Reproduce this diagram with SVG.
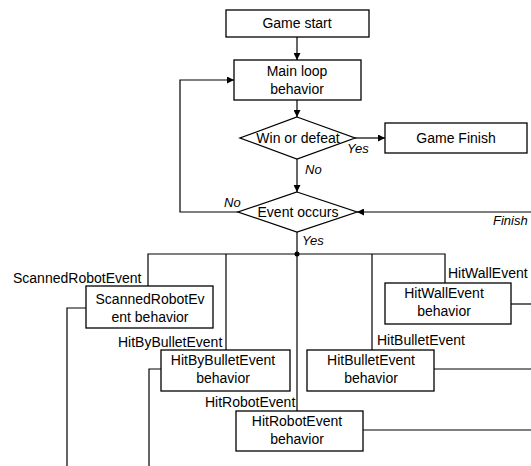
<svg xmlns="http://www.w3.org/2000/svg" width="531" height="466" viewBox="0 0 531 466">
<style>
.box{fill:#fff;stroke:#000;stroke-width:1.3}
.ln{fill:none;stroke:#000;stroke-width:1.2}
text{font-family:"Liberation Sans",Arial,sans-serif;font-size:14px;fill:#000}
.c{text-anchor:middle}
.it{font-style:italic;font-size:13px}
</style>
<defs>
<marker id="ah" viewBox="0 0 10 10" refX="10" refY="5" markerWidth="7" markerHeight="7" markerUnits="userSpaceOnUse" orient="auto">
<path d="M0,0 L10,5 L0,10 z" fill="#000"/>
</marker>
</defs>
<rect width="531" height="466" fill="#fff"/>
<g id="connectors">
<path class="ln" d="M297,37 V60" marker-end="url(#ah)"/>
<path class="ln" d="M297,100 V117" marker-end="url(#ah)"/>
<path class="ln" d="M355,138 H385" marker-end="url(#ah)"/>
<path class="ln" d="M297,159 V192" marker-end="url(#ah)"/>
<path class="ln" d="M238,212 H180 V80 H234" marker-end="url(#ah)"/>
<path class="ln" d="M531,212 H357" marker-end="url(#ah)"/>
<path class="ln" d="M297,232 V411"/>
<path class="ln" d="M148,286 V254 H445 V283"/>
<path class="ln" d="M226,254 V350"/>
<path class="ln" d="M372,254 V350"/>
<circle cx="297" cy="254" r="2.5" fill="#000"/>
<path class="ln" d="M86,308 H67 V466"/>
<path class="ln" d="M161,369 H149 V466"/>
<path class="ln" d="M511,304 H531"/>
<path class="ln" d="M434,369 H531"/>
<path class="ln" d="M363,430 H531"/>
<text class="it" x="347" y="153">Yes</text>
<text class="it" x="305" y="174">No</text>
<text class="it" x="224" y="207">No</text>
<text class="it" x="302" y="245">Yes</text>
<text class="it" x="493" y="225">Finish</text>
<text x="13" y="283">ScannedRobotEvent</text>
<text x="118" y="347">HitByBulletEvent</text>
<text x="205" y="407">HitRobotEvent</text>
<text x="377" y="345">HitBulletEvent</text>
<text x="448" y="278">HitWallEvent</text>
</g>
<g id="game-start">
<rect class="box" x="226" y="10" width="143" height="27"/>
<text class="c" x="297" y="28">Game start</text>
</g>
<g id="main-loop">
<rect class="box" x="234" y="60" width="127" height="40"/>
<text class="c" x="297" y="76">Main loop</text>
<text class="c" x="297" y="94">behavior</text>
</g>
<g id="win-or-defeat">
<polygon class="box" points="297,117 355,138 297,159 240,138"/>
<text class="c" x="298" y="143">Win or defeat</text>
</g>
<g id="game-finish">
<rect class="box" x="385" y="123" width="142" height="30"/>
<text class="c" x="456" y="143">Game Finish</text>
</g>
<g id="event-occurs">
<polygon class="box" points="297,192 357,212 297,232 238,212"/>
<text class="c" x="298" y="217">Event occurs</text>
</g>
<g id="scanned-robot">
<rect class="box" x="86" y="286" width="127" height="42"/>
<text class="c" x="150" y="304">ScannedRobotEv</text>
<text class="c" x="150" y="322">ent behavior</text>
</g>
<g id="hit-wall">
<rect class="box" x="385" y="283" width="126" height="41"/>
<text class="c" x="444" y="298">HitWallEvent</text>
<text class="c" x="444" y="316">behavior</text>
</g>
<g id="hit-by-bullet">
<rect class="box" x="161" y="350" width="129" height="41"/>
<text class="c" x="223" y="365">HitByBulletEvent</text>
<text class="c" x="223" y="383">behavior</text>
</g>
<g id="hit-bullet">
<rect class="box" x="307" y="350" width="127" height="41"/>
<text class="c" x="371" y="365">HitBulletEvent</text>
<text class="c" x="371" y="383">behavior</text>
</g>
<g id="hit-robot">
<rect class="box" x="236" y="411" width="127" height="40"/>
<text class="c" x="297" y="426">HitRobotEvent</text>
<text class="c" x="297" y="444">behavior</text>
</g>
</svg>
